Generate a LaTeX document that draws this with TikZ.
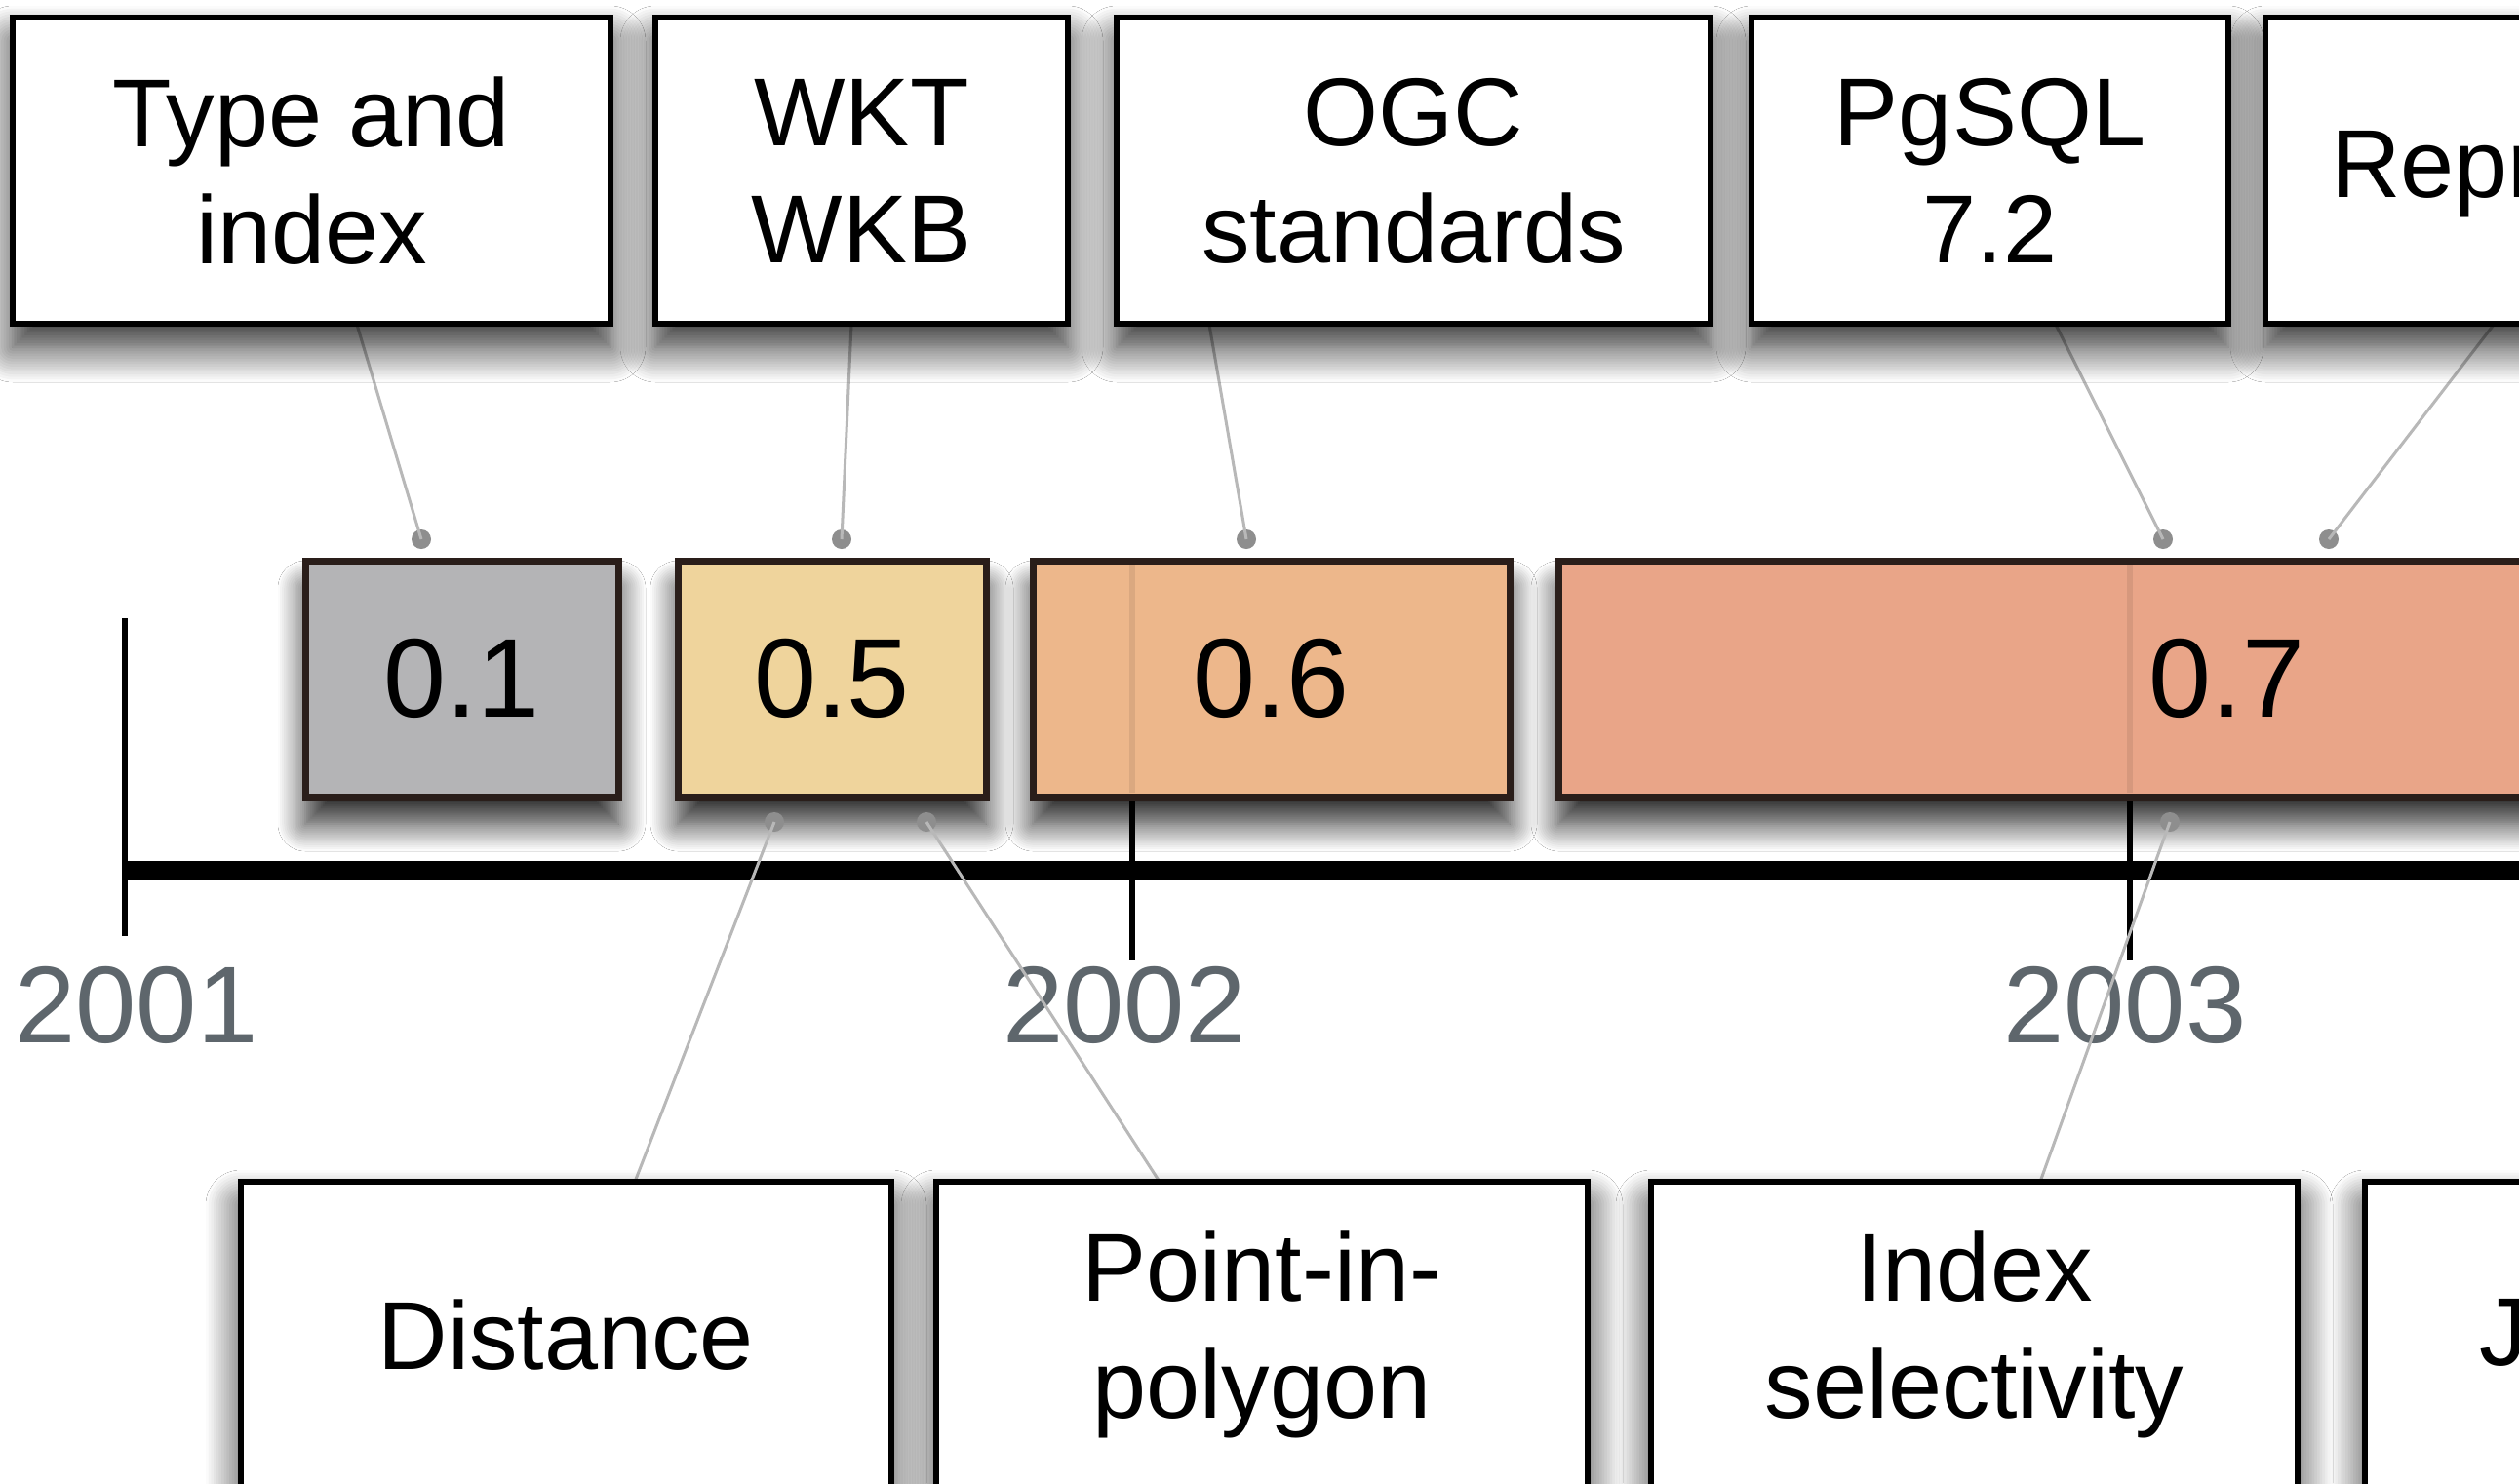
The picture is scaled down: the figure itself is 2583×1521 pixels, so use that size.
\documentclass[tikz,border=0pt]{standalone}
\usepackage{fontspec}
\setmainfont{Liberation Sans}
\usetikzlibrary{shadows.blur}
\definecolor{vgray}{HTML}{B4B4B6}
\definecolor{vyellow}{HTML}{EFD49C}
\definecolor{vorange}{HTML}{EDB78B}
\definecolor{vsalmon}{HTML}{E9A588}
\definecolor{yeargray}{HTML}{5E666C}
\definecolor{connline}{HTML}{B8B8B8}
\definecolor{dotgray}{HTML}{8E8E8E}
\definecolor{vborder}{HTML}{2A1E1A}
\tikzset{
  featbox/.style={draw=black, line width=6pt, fill=white, anchor=north west,
    inner sep=0pt, outer sep=0pt, align=center, minimum height=314pt,
    font=\fontsize{99}{120}\selectfont,
    blur shadow={shadow xshift=0pt, shadow yshift=-24pt, shadow blur radius=36pt,
      shadow opacity=85, shadow blur steps=14}},
  verbox/.style={draw=vborder, line width=7pt, anchor=north west,
    inner sep=0pt, outer sep=0pt, align=center, minimum height=242pt,
    font=\fontsize{115}{120}\selectfont,
    blur shadow={shadow xshift=0pt, shadow yshift=-28pt, shadow blur radius=28pt,
      shadow opacity=85, shadow blur steps=14}},
  freetext/.style={inner sep=0pt, outer sep=0pt, anchor=base west,
    font=\fontsize{99}{120}\selectfont},
  conn/.style={draw=connline, line width=3pt},
  condot/.style={circle, fill=dotgray, inner sep=0pt, minimum size=20pt},
  yearlbl/.style={text=yeargray, inner sep=0pt, font=\fontsize{112}{112}\selectfont},
  axisline/.style={draw=black, line width=20pt},
  tickline/.style={draw=black, line width=6pt},
  faintick/.style={draw=black, line width=6pt, opacity=0.08},
}
\begin{document}
\begin{tikzpicture}[x=1pt,y=-1pt]
\useasboundingbox (0,0) rectangle (2583,1521);
\clip (0,0) rectangle (2583,1521);
\fill[white] (0,0) rectangle (2583,1521);

% axis and ticks
\coordinate (axstart) at (125,893);
\coordinate (axend) at (2700,893);
\coordinate (t1a) at (128,634);
\coordinate (t1b) at (128,960);
\coordinate (t2a) at (1161,634);
\coordinate (t2b) at (1161,985);
\coordinate (t3a) at (2184,634);
\coordinate (t3b) at (2184,985);
\draw[tickline] (t1a) -- (t1b);
\draw[tickline] (t2a) -- (t2b);
\draw[tickline] (t3a) -- (t3b);
\draw[axisline] (axstart) -- (axend);

% year labels
\node[yearlbl] (y2001) at (140,1031) {2001};
\node[yearlbl] (y2002) at (1153,1031) {2002};
\node[yearlbl] (y2003) at (2179,1031) {2003};

% connector start points
\coordinate (s1) at (366,333);
\coordinate (s2) at (873,333);
\coordinate (s3) at (1240,333);
\coordinate (s4) at (2108,333);
\coordinate (s5) at (2557,333);
\coordinate (s6) at (651,1212);
\coordinate (s7) at (1189,1212);
\coordinate (s8) at (2092,1212);

% version boxes
\node[verbox, fill=vgray, minimum width=321pt] (v01) at (313,575) {0.1};
\node[verbox, fill=vyellow, minimum width=316pt] (v05) at (695,575) {0.5};
\node[verbox, fill=vorange, minimum width=489pt] (v06) at (1059,575) {0.6};
\node[verbox, fill=vsalmon, minimum width=1370pt] (v07) at (1598,575) {0.7};

% faint ticks seen through boxes
\coordinate (f2a) at (1161,579);
\coordinate (f2b) at (1161,813);
\coordinate (f3a) at (2184,579);
\coordinate (f3b) at (2184,813);
\draw[faintick] (f2a) -- (f2b);
\draw[faintick] (f3a) -- (f3b);

% connector dots
\node[condot] (d1) at (432,553) {};
\node[condot] (d2) at (863,553) {};
\node[condot] (d3) at (1278,553) {};
\node[condot] (d4) at (2218,553) {};
\node[condot] (d5) at (2388,553) {};
\node[condot] (d6) at (794,843) {};
\node[condot] (d7) at (950,843) {};
\node[condot] (d8) at (2225,843) {};

% connectors
\draw[conn] (s1) -- (d1.center);
\draw[conn] (s2) -- (d2.center);
\draw[conn] (s3) -- (d3.center);
\draw[conn] (s4) -- (d4.center);
\draw[conn] (s5) -- (d5.center);
\draw[conn] (s6) -- (d6.center);
\draw[conn] (s7) -- (d7.center);
\draw[conn] (s8) -- (d8.center);

% top feature boxes
\node[featbox, minimum width=613pt] (typeidx) at (13,18) {Type and\\index};
\node[featbox, minimum width=423pt] (wkt) at (672,18) {WKT\\WKB};
\node[featbox, minimum width=609pt] (ogc) at (1145,18) {OGC\\standards};
\node[featbox, minimum width=489pt] (pgsql) at (1796,18) {PgSQL\\7.2};
\node[featbox, minimum width=600pt] (repr) at (2323,18) {};
\node[freetext] (reprtxt) at (2390,202) {Repr};

% bottom feature boxes
\node[featbox, minimum width=667pt] (distance) at (247,1212) {Distance};
\node[featbox, minimum width=668pt] (pip) at (960,1212) {Point-in-\\polygon};
\node[featbox, minimum width=663pt] (idxsel) at (1693,1212) {Index\\selectivity};
\node[featbox, minimum width=600pt] (jbox) at (2425,1212) {};
\node[freetext] (jtxt) at (2542,1400) {J};
\end{tikzpicture}
\end{document}
